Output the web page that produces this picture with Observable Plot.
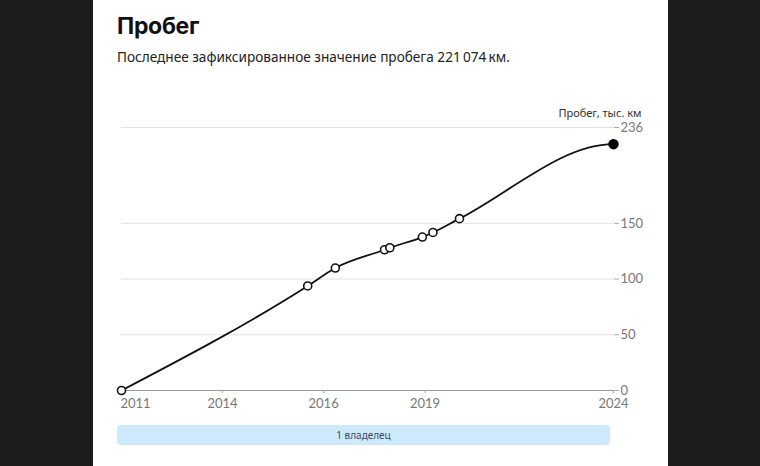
<!DOCTYPE html>
<html>
<head>
<meta charset="utf-8">
<script src="https://cdn.jsdelivr.net/npm/d3@7"></script>
<script src="https://cdn.jsdelivr.net/npm/@observablehq/plot@0.6"></script>
<style>
  html, body { margin: 0; padding: 0; }
  body { width: 760px; height: 466px; background: #1c1c1c; overflow: hidden; position: relative; }
  #card { position: absolute; left: 93px; top: 0; width: 575px; height: 466px; background: #fff; }
  #title { position: absolute; left: 24px; top: 12px; font-family: Inter, "Noto Sans", sans-serif; font-weight: 700; font-size: 23px; color: #111; letter-spacing: -0.3px; }
  #subtitle { position: absolute; left: 24px; top: 47px; font-family: "Noto Sans", "Open Sans", sans-serif; font-size: 13.6px; color: #222; }
  #chart { position: absolute; left: 0; top: 100px; }
  #owners { position: absolute; left: 24px; top: 425px; width: 493px; height: 20px; background: #cfe9fc; border-radius: 4px;
            font-family: "Noto Sans", "Open Sans", sans-serif; font-size: 10px; color: #3c4a5c; text-align: center; line-height: 20px; }
</style>
</head>
<body>
<div id="card">
  <div id="title">Пробег</div>
  <div id="subtitle">Последнее зафиксированное значение пробега 221&#8239;074&#8239;км.</div>
  <div id="chart"></div>
  <div id="owners">1 владелец</div>
</div>
<script>
// Data (decimal year, mileage in thousand km)
const years   = [2011.0, 2015.92, 2016.65, 2017.95, 2018.09, 2018.95, 2019.23, 2019.93, 2024.0];
const mileage = [0, 93.8, 109.9, 126.3, 128.1, 137.7, 141.8, 154.2, 221.074];
const xTickValues = [2011, 2013.67, 2016.34, 2019.02, 2024];
const xTickLabels = ["2011", "2014", "2016", "2019", "2024"];
const yTickValues = [0, 50, 100, 150, 236];
const yLabel = "Пробег, тыс. км";

const data = years.map((x, i) => ({x, y: mileage[i], last: i === years.length - 1}));
const labelOf = new Map(xTickValues.map((v, i) => [v, xTickLabels[i]]));

// Monotone cubic curve whose end tangent is flat (as in the reference)
function curveMonotoneFlatEnd(context) {
  let pts = [];
  return {
    areaStart() {}, areaEnd() {},
    lineStart() { pts = []; },
    point(x, y) { pts.push([+x, +y]); },
    lineEnd() {
      const n = pts.length;
      if (!n) return;
      context.moveTo(pts[0][0], pts[0][1]);
      if (n === 1) return;
      const s = [], h = [];
      for (let i = 0; i < n - 1; i++) {
        h[i] = pts[i + 1][0] - pts[i][0];
        s[i] = (pts[i + 1][1] - pts[i][1]) / h[i];
      }
      const t = new Array(n).fill(0);
      for (let i = 1; i < n - 1; i++) {
        const p = (s[i - 1] * h[i] + s[i] * h[i - 1]) / (h[i - 1] + h[i]);
        t[i] = (Math.sign(s[i - 1]) + Math.sign(s[i])) * Math.min(Math.abs(s[i - 1]), Math.abs(s[i]), 0.5 * Math.abs(p)) || 0;
      }
      t[0] = n > 2 ? (3 * s[0] - t[1]) / 2 : s[0];
      t[n - 1] = 0;
      for (let i = 0; i < n - 1; i++) {
        const [x0, y0] = pts[i], [x1, y1] = pts[i + 1];
        const dx = (x1 - x0) / 3;
        context.bezierCurveTo(x0 + dx, y0 + dx * t[i], x1 - dx, y1 - dx * t[i + 1], x1, y1);
      }
    }
  };
}

const chart = Plot.plot({
  width: 575,
  height: 315,
  marginLeft: 28,
  marginRight: 55,
  marginTop: 27,
  marginBottom: 25,
  style: {fontFamily: "Lato, sans-serif", fontSize: "13px", color: "#777", background: "transparent"},
  x: {domain: [2011, 2024]},
  y: {domain: [0, 236]},
  marks: [
    Plot.ruleY(yTickValues.filter(d => d > 0), {stroke: "#e2e2e2", strokeWidth: 1}),
    Plot.ruleY([0], {stroke: "#9a9a9a", strokeWidth: 1}),
    Plot.axisY({anchor: "right", ticks: yTickValues, tickSize: 5, tickPadding: 2, label: null, stroke: "#aaa", fill: "#777"}),
    Plot.axisX({ticks: xTickValues.slice(1), tickSize: 3, tickPadding: 5, label: null, tickFormat: d => labelOf.get(d), stroke: "#aaa", fill: "#777"}),
    Plot.axisX({ticks: xTickValues.slice(0, 1), tickSize: 0, tickPadding: 8, label: null, textAnchor: "start", dx: -1, tickFormat: d => labelOf.get(d), fill: "#777"}),
    Plot.text([yLabel], {frameAnchor: "top-right", dx: 28, dy: -14, textAnchor: "end", lineAnchor: "middle", fill: "#333", fontSize: 11, fontFamily: "'Noto Sans', sans-serif"}),
    Plot.line(data, {x: "x", y: "y", curve: curveMonotoneFlatEnd, stroke: "#111", strokeWidth: 1.8}),
    Plot.dot(data.filter(d => !d.last), {x: "x", y: "y", r: 4, fill: "#fff", stroke: "#111", strokeWidth: 1.6}),
    Plot.dot(data.filter(d => d.last), {x: "x", y: "y", r: 4.5, fill: "#000", stroke: "#000"})
  ]
});
document.getElementById("chart").appendChild(chart);
</script>
</body>
</html>
